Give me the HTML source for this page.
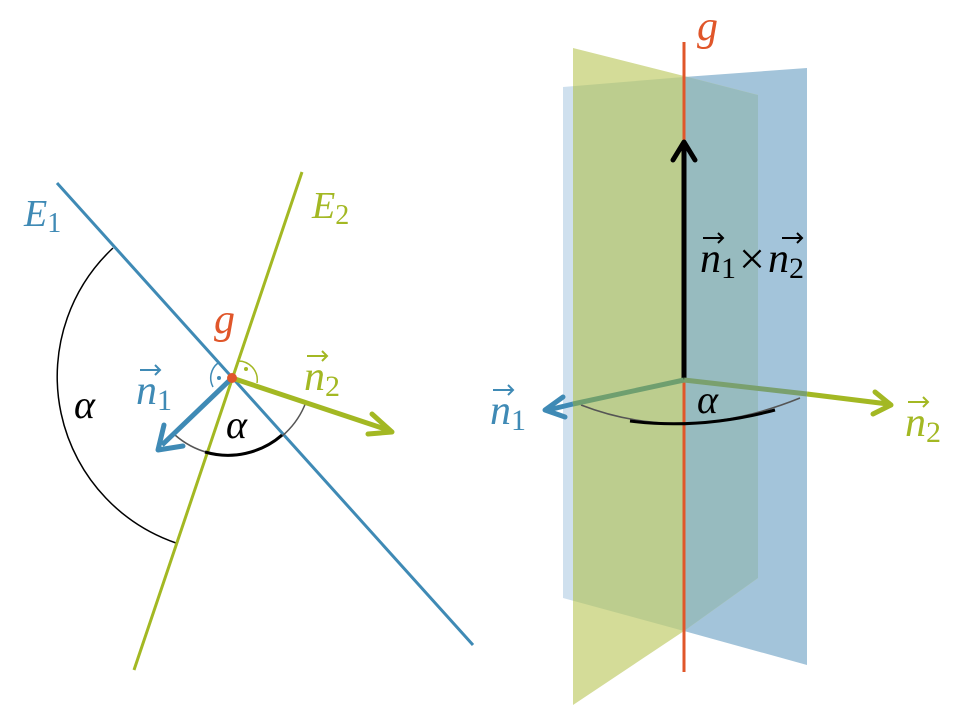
<!DOCTYPE html>
<html><head><meta charset="utf-8"><style>
html,body{margin:0;padding:0;background:#fff;}
svg text{font-family:"Liberation Serif",serif;font-style:italic;}
</style></head><body>
<svg width="970" height="720" viewBox="0 0 970 720" xmlns="http://www.w3.org/2000/svg">
<defs>
<clipPath id="bl"><polygon points="563,87 684,77 684,631 563,598"/></clipPath>
<clipPath id="br"><polygon points="684,77 807,68 807,665 684,631"/></clipPath>
</defs>
<!-- LEFT -->
<path d="M113,248 A176,176 0 0 0 176,543" fill="none" stroke="#000" stroke-width="1.5"/>
<line x1="57" y1="183" x2="473" y2="645" stroke="#3f8ab5" stroke-width="3"/>
<line x1="302" y1="172" x2="134" y2="670" stroke="#a3b823" stroke-width="3"/>
<path d="M175,435 A82,82 0 0 0 306,402" fill="none" stroke="#555" stroke-width="1.5"/>
<path d="M205,452 A82,82 0 0 0 282,435" fill="none" stroke="#000" stroke-width="3"/>
<path d="M218,363 A19,19 0 0 0 213,387" fill="none" stroke="#3f8ab5" stroke-width="1.5"/>
<path d="M237,361 A19,19 0 0 1 257,383" fill="none" stroke="#a3b823" stroke-width="1.5"/>
<circle cx="219" cy="378" r="2" fill="#3f8ab5"/>
<circle cx="246" cy="369" r="2" fill="#a3b823"/>
<line x1="232" y1="378" x2="162" y2="445" stroke="#3f8ab5" stroke-width="5"/>
<polyline points="164,425 158,450 183,446" fill="none" stroke="#3f8ab5" stroke-width="5" stroke-linecap="round" stroke-linejoin="round"/>
<line x1="232" y1="378" x2="388" y2="430" stroke="#a3b823" stroke-width="5"/>
<polyline points="372,414 392,432 368,434" fill="none" stroke="#a3b823" stroke-width="5" stroke-linecap="round" stroke-linejoin="round"/>
<circle cx="232" cy="378" r="5" fill="#e0562a"/>
<text x="24" y="226" font-size="38" fill="#3f8ab5">E<tspan font-size="28" font-style="normal" dy="6">1</tspan></text>
<text x="312" y="218" font-size="38" fill="#a3b823">E<tspan font-size="28" font-style="normal" dy="6">2</tspan></text>
<text x="214" y="333" font-size="42" fill="#e0562a">g</text>
<text x="136" y="404" font-size="42" fill="#3f8ab5">n<tspan font-size="30" font-style="normal" dy="6">1</tspan></text>
<text x="304" y="390" font-size="42" fill="#a3b823">n<tspan font-size="30" font-style="normal" dy="6">2</tspan></text>
<text x="74" y="418" font-size="40" fill="#000">α</text>
<text x="226" y="438" font-size="40" fill="#000">α</text>
<!-- RIGHT -->
<polygon points="563,87 684,77 684,631 563,598" fill="#cfe0ee"/>
<polygon points="684,77 807,68 807,665 684,631" fill="#a3c4da"/>
<polygon points="573,48 684,76 758,95 758,578 684,631 573,705" fill="#d4dc98"/>
<g clip-path="url(#bl)"><polygon points="573,48 684,76 758,95 758,578 684,631 573,705" fill="#bccd8e"/></g>
<g clip-path="url(#br)"><polygon points="573,48 684,76 758,95 758,578 684,631 573,705" fill="#97bbbf"/></g>
<line x1="684" y1="42" x2="684" y2="672" stroke="#e0562a" stroke-width="3"/>
<line x1="684" y1="380" x2="684" y2="145" stroke="#000" stroke-width="5"/>
<polyline points="673,160 684,142 695,160" fill="none" stroke="#000" stroke-width="5" stroke-linecap="round" stroke-linejoin="round"/>
<path d="M581,405 Q684,445 800,398" fill="none" stroke="#555" stroke-width="1.5"/>
<path d="M630,421 Q700,430 775,410" fill="none" stroke="#000" stroke-width="3"/>
<line x1="684" y1="380" x2="573" y2="404" stroke="#6f9f6f" stroke-width="5"/>
<line x1="573" y1="404" x2="548" y2="410" stroke="#3f8ab5" stroke-width="5"/>
<polyline points="563,397 545,410 565,417" fill="none" stroke="#3f8ab5" stroke-width="5" stroke-linecap="round" stroke-linejoin="round"/>
<line x1="684" y1="380" x2="807" y2="394" stroke="#7aa06e" stroke-width="5"/>
<line x1="807" y1="394" x2="888" y2="404" stroke="#a3b823" stroke-width="5"/>
<polyline points="875,392 891,405 873,414" fill="none" stroke="#a3b823" stroke-width="5" stroke-linecap="round" stroke-linejoin="round"/>
<text x="697" y="40" font-size="42" fill="#e0562a">g</text>
<text x="700" y="272" font-size="42" fill="#000">n<tspan font-size="30" font-style="normal" dy="6">1</tspan><tspan font-style="normal" font-size="46" dy="-4" dx="3">×</tspan><tspan dy="-2" dx="3">n</tspan><tspan font-size="30" font-style="normal" dy="6">2</tspan></text>
<text x="490" y="424" font-size="42" fill="#3f8ab5">n<tspan font-size="30" font-style="normal" dy="6">1</tspan></text>
<text x="905" y="436" font-size="42" fill="#a3b823">n<tspan font-size="30" font-style="normal" dy="6">2</tspan></text>
<text x="697" y="413" font-size="40" fill="#000">α</text>
<!-- vector arrows above n -->
<g stroke-width="2" fill="none">
<path d="M140,370 H160 M155,365 L160,370 L155,375" stroke="#3f8ab5"/>
<path d="M307,356 H327 M322,351 L327,356 L322,361" stroke="#a3b823"/>
<path d="M703,238 H723 M718,233 L723,238 L718,243" stroke="#000"/>
<path d="M782,238 H802 M797,233 L802,238 L797,243" stroke="#000"/>
<path d="M493,390 H513 M508,385 L513,390 L508,395" stroke="#3f8ab5"/>
<path d="M908,402 H928 M923,397 L928,402 L923,407" stroke="#a3b823"/>
</g>
</svg>
</body></html>
